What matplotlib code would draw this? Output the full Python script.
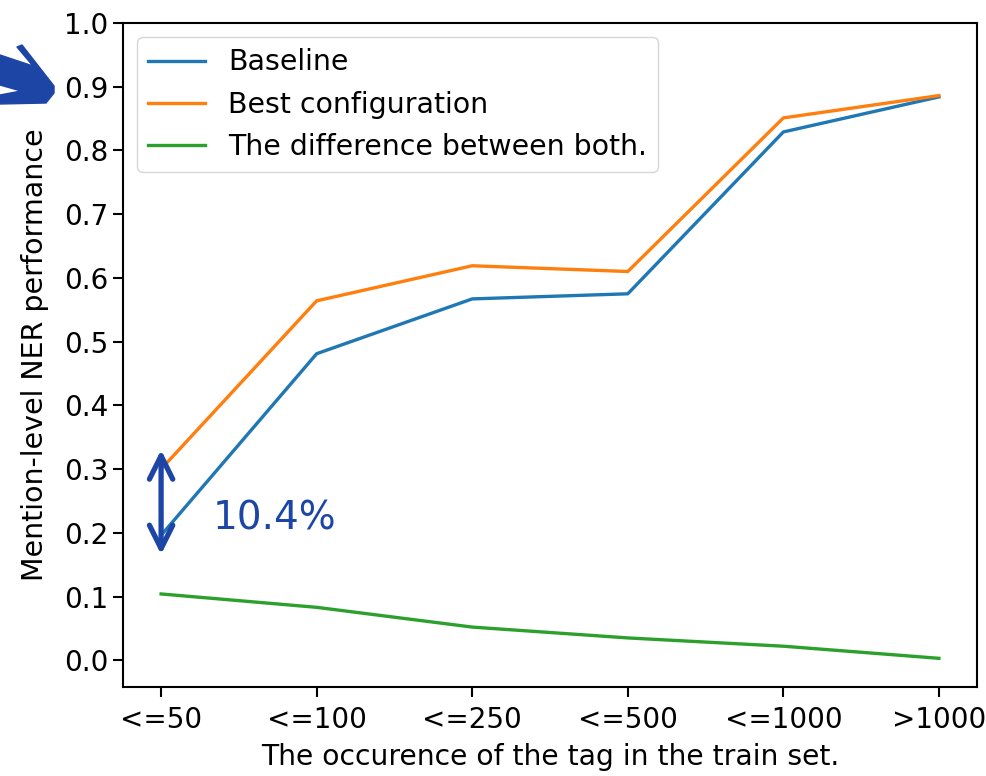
import numpy as np
import matplotlib
matplotlib.use('Agg')
import matplotlib.pyplot as plt
from matplotlib.patches import Polygon

# %% data
cats = ['<=50', '<=100', '<=250', '<=500', '<=1000', '>1000']
baseline = [0.196, 0.481, 0.567, 0.575, 0.829, 0.884]
best = [0.300, 0.564, 0.619, 0.610, 0.851, 0.886]
diff = [0.104, 0.083, 0.052, 0.035, 0.022, 0.003]

mark = '#1c45a6'   # colour of the hand-drawn annotations

# %% figure
W, H = 987, 776
fig = plt.figure(figsize=(W/100, H/100), dpi=100)
ax = fig.add_axes([0.1246, 0.1147, 0.8653, 0.8557])

x = np.arange(len(cats))
ax.plot(x, baseline, color='#1f77b4', lw=2.4, label='Baseline')
ax.plot(x, best, color='#ff7f0e', lw=2.4, label='Best configuration')
ax.plot(x, diff, color='#2ca02c', lw=2.4, label='The difference between both.')

ax.set_xticks(x)
ax.set_xticklabels(cats)
ax.set_xlim(-0.245, len(cats) - 1 + 0.245)
ax.set_ylim(-0.042, 1.0)
ax.set_yticks(np.arange(0, 1.01, 0.1))
ax.tick_params(labelsize=20, width=1.5, length=7)
ax.tick_params(axis='x', pad=6.5)
for s in ax.spines.values():
    s.set_linewidth(1.5)

ax.set_xlabel('The occurence of the tag in the train set.', fontsize=20.3, labelpad=7)
ax.set_ylabel('Mention-level NER performance', fontsize=20.5, labelpad=11)
ax.legend(loc='upper left', fontsize=20.4, handlelength=2.0)

# double arrow over the first gap and its label
ax.annotate('', xy=(0, best[0] + 0.03), xytext=(0, baseline[0] - 0.03),
            arrowprops=dict(arrowstyle='<->', color=mark, lw=3.8,
                            mutation_scale=42, shrinkA=0, shrinkB=0))
ax.text(0.33, 0.223, '%.1f%%' % (diff[0] * 100), color=mark, fontsize=28,
        va='center', ha='left')

# hand-drawn arrow pointing at the 0.9 tick (figure pixels, from top)
shape = [(0, 55), (33, 66), (17, 47), (22, 45), (54, 86), (54, 93),
         (46, 103), (0, 104), (0, 95), (21, 91), (0, 85)]
fig.patches.append(Polygon([(px, H - py) for px, py in shape], closed=True,
                           transform=None, color=mark, joinstyle='round'))

fig.savefig('out.png', dpi=100)
